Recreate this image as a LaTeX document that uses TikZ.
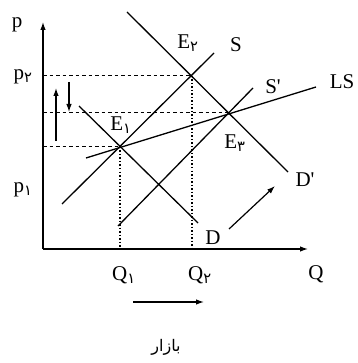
\documentclass[tikz,border=0pt]{standalone}
\usepackage{fontspec}
\setmainfont{Liberation Serif}
\newfontfamily\arabicfont[Script=Arabic]{DejaVu Sans}
\TeXXeTstate=1
\usetikzlibrary{arrows.meta}
\newcommand{\fasub}[1]{\textsubscript{\arabicfont #1}}

\begin{document}
\begin{tikzpicture}[x=1pt,y=-1pt,
    curve/.style={black, line width=1.3pt},
    guide/.style={black, line width=1pt, dash pattern=on 3.5pt off 3pt},
    drop/.style={black, line width=1.3pt, dash pattern=on 1.5pt off 2pt},
    arrowline/.style={black, line width=1.2pt, -{Latex[length=8pt,width=5.5pt]}},
    lbl/.style={font=\fontsize{21}{24}\selectfont, inner sep=0pt}]
        \useasboundingbox (0,0) rectangle (357,363);
        % axes
        \coordinate (O) at (43,249);
        \coordinate (ytop) at (43,22);
        \coordinate (xend) at (308,249);
        \draw[arrowline] (O) -- (ytop);
        \draw[arrowline] (O) -- (xend);
        % equilibria
        \coordinate (E1) at (120,147);
        \coordinate (E2) at (192,76);
        \coordinate (E3) at (228,113);
        \coordinate (Q1) at (120,249);
        \coordinate (Q2) at (192,249);
        \foreach \e/\lvl in {E1/147, E2/76, E3/113} {
            \draw[guide] (43,\lvl) -- (\e);
        }
        \draw[drop] (E1) -- (Q1);
        \draw[drop] (E2) -- (Q2);
        % curves
        \coordinate (Dtop) at (79,106);
        \coordinate (Dend) at (198,223);
        \coordinate (Dptop) at (127,12);
        \coordinate (Dpend) at (288,172);
        \coordinate (Sbot) at (62,204);
        \coordinate (Stop) at (214,53);
        \coordinate (Spbot) at (118,226);
        \coordinate (Sptop) at (253,88);
        \coordinate (LSbot) at (86,158);
        \coordinate (LStop) at (316,87);
        \foreach \a/\b in {Dtop/Dend, Dptop/Dpend, Sbot/Stop, Spbot/Sptop, LSbot/LStop} {
            \draw[curve] (\a) -- (\b);
        }
        % shift arrows
        \coordinate (up0) at (56,141);
        \coordinate (up1) at (56,88);
        \coordinate (dn0) at (69,82);
        \coordinate (dn1) at (69,112);
        \coordinate (dd0) at (229,229);
        \coordinate (dd1) at (275,186);
        \coordinate (qq0) at (133,302);
        \coordinate (qq1) at (204,302);
        \draw[arrowline] (up0) -- (up1);
        \draw[arrowline] (dn0) -- (dn1);
        \draw[arrowline] (dd0) -- (dd1);
        \draw[arrowline] (qq0) -- (qq1);
        % labels
        \node[lbl] (lp) at (17,25) {p};
        \node[lbl] (lp2) at (23,77) {p\fasub{۲}};
        \node[lbl] (lp1) at (23,190) {p\fasub{۱}};
        \node[lbl] (lE1) at (121,125) {E\fasub{۱}};
        \node[lbl] (lE2) at (188,43) {E\fasub{۲}};
        \node[lbl] (lE3) at (235,143) {E\fasub{۳}};
        \node[lbl] (lS) at (236,45) {S};
        \node[lbl] (lSp) at (273,87) {S\textquotesingle};
        \node[lbl] (lLS) at (342,82) {LS};
        \node[lbl] (lDp) at (305,180) {D\textquotesingle};
        \node[lbl] (lD) at (213,238) {D};
        \node[lbl] (lQ1) at (124,275) {Q\fasub{۱}};
        \node[lbl] (lQ2) at (200,275) {Q\fasub{۲}};
        \node[lbl] (lQ) at (316,274) {Q};
        \node[font=\fontsize{16}{19}\selectfont, inner sep=0pt] (market) at (166,347) {\arabicfont\beginR بازار\endR};
    \end{tikzpicture}
\end{document}
